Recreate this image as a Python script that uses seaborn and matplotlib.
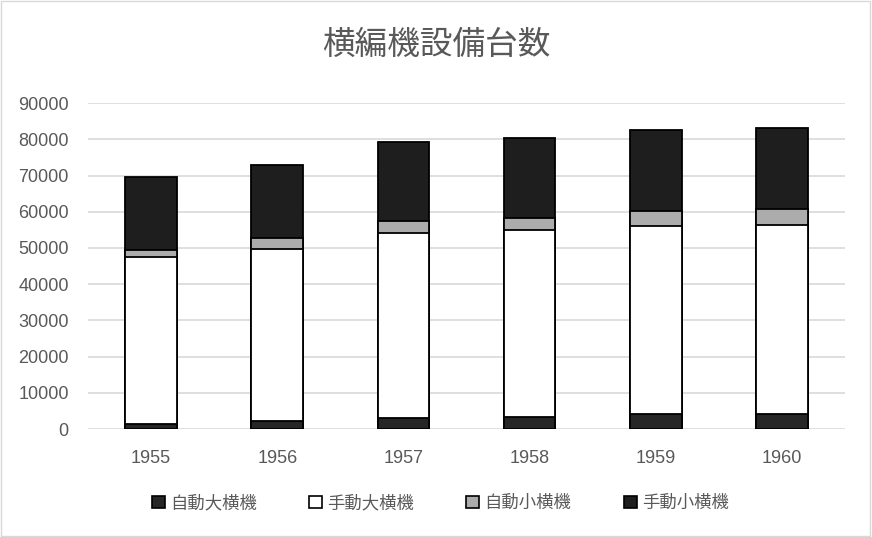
import numpy as np
import pandas as pd
import matplotlib
matplotlib.use("Agg")
import matplotlib.pyplot as plt
import seaborn as sns
from matplotlib.patches import Patch, Rectangle

# data
years = ["1955", "1956", "1957", "1958", "1959", "1960"]
auto_large = [1380, 2210, 3040, 3310, 4050, 4240]          # 自動大横機
manual_large = [46040, 47610, 51010, 51570, 52030, 52210]  # 手動大横機
auto_small = [2120, 2940, 3320, 3320, 4140, 4320]          # 自動小横機
manual_small = [19980, 20170, 21820, 22190, 22380, 22380]  # 手動小横機

series_names = ["自動大横機", "手動大横機", "自動小横機", "手動小横機"]
series_colors = ["#262626", "#ffffff", "#acacac", "#1e1e1e"]

sns.set_style("white")
plt.rcParams["font.family"] = ["Liberation Sans", "Noto Sans CJK JP", "DejaVu Sans"]
text_color = "#595959"

df = pd.DataFrame({
    "year": years,
    series_names[0]: auto_large,
    series_names[1]: manual_large,
    series_names[2]: auto_small,
    series_names[3]: manual_small,
})
cum = df[series_names].cumsum(axis=1)

fig = plt.figure(figsize=(8.72, 5.37), dpi=100)
ax = fig.add_axes([0.101, 0.201, 0.868, 0.607])

# draw cumulative totals from the tallest down so lower segments sit on top
for name, color in reversed(list(zip(series_names, series_colors))):
    sns.barplot(x=df["year"], y=cum[name], color=color, edgecolor="black",
                linewidth=1.3, width=0.41, saturation=1, ax=ax, zorder=3)

ax.set_ylim(0, 90000)
ax.set_xlim(-0.5, 5.5)
ax.set_yticks(np.arange(0, 90001, 10000))
ax.yaxis.grid(True, color="#d9d9d9", linewidth=1.2, zorder=0)
ax.set_axisbelow(True)
for s in ax.spines.values():
    s.set_visible(False)
ax.set_xlabel("")
ax.set_ylabel("")
ax.tick_params(axis="y", length=0, pad=14, labelsize=13, labelcolor=text_color)
ax.tick_params(axis="x", length=0, pad=15, labelsize=13, labelcolor=text_color)

fig.text(0.5, 0.916, "横編機設備台数", ha="center", va="center", fontsize=23.5,
         color=text_color, family=["Noto Sans CJK JP", "DejaVu Sans"])

handles = [Patch(facecolor=c, edgecolor="black", linewidth=1.2) for c in series_colors]
fig.legend(handles, series_names, loc="center", bbox_to_anchor=(0.505, 0.063),
           ncol=4, frameon=False, handlelength=0.75, handleheight=0.75,
           handletextpad=0.3, columnspacing=3.0, labelcolor=text_color,
           prop={"family": ["Noto Sans CJK JP", "DejaVu Sans"], "size": 12.5})

fig.patches.append(Rectangle((0.001, 0.001), 0.997, 0.997, transform=fig.transFigure,
                             fill=False, edgecolor="#d9d9d9", linewidth=1))

fig.savefig("out.png", dpi=100)
